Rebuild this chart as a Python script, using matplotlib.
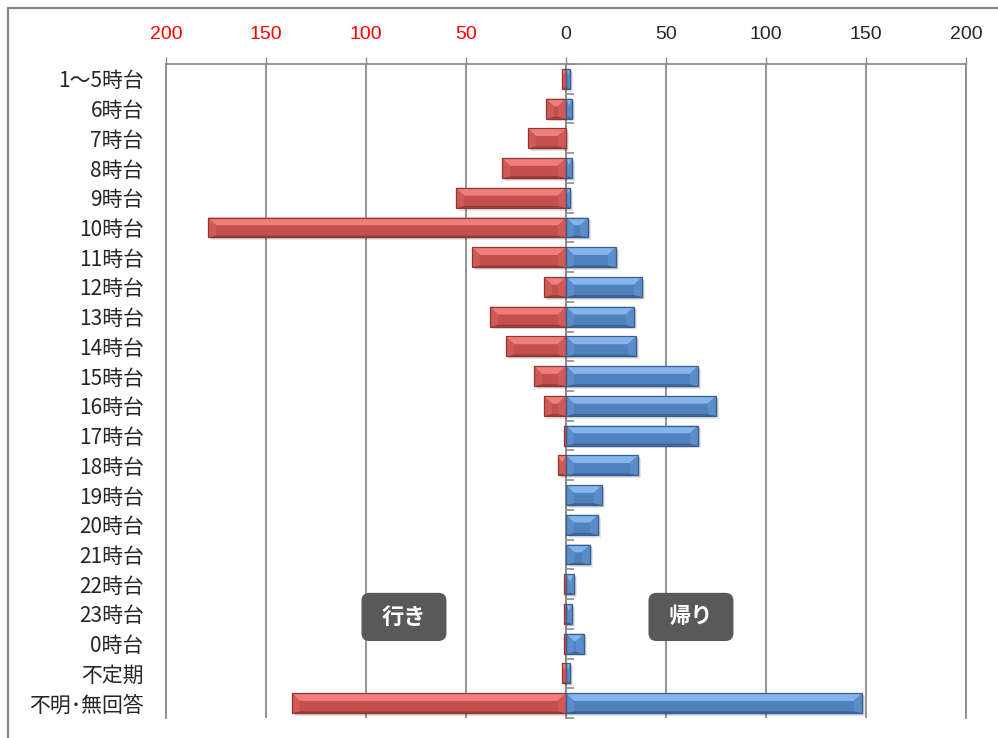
import numpy as np
import matplotlib
matplotlib.use("Agg")
import matplotlib.pyplot as plt
from matplotlib.patches import Polygon, Rectangle, FancyBboxPatch

plt.rcParams['font.family'] = ['Noto Sans CJK JP', 'DejaVu Sans']

# 時間帯別の人数（行き / 帰り）
categories = ["1～5時台", "6時台", "7時台", "8時台", "9時台", "10時台", "11時台",
              "12時台", "13時台", "14時台", "15時台", "16時台", "17時台", "18時台",
              "19時台", "20時台", "21時台", "22時台", "23時台", "0時台", "不定期",
              "不明･無回答"]
going = [2, 10, 19, 32, 55, 179, 47, 11, 38, 30, 16, 11, 1, 4, 0, 0, 0, 1, 1, 1, 2, 137]
returning = [2, 3, 0, 3, 2, 11, 25, 38, 34, 35, 66, 75, 66, 36, 18, 16, 12, 4, 3, 9, 2, 148]
x_ticks = [-200, -150, -100, -50, 0, 50, 100, 150, 200]

RED = dict(face="#c4504d", light="#f07f7b", side="#cf5a57", dark="#9a3a37", edge="#8f3835")
BLUE = dict(face="#4f81bd", light="#86b3ea", side="#5b8dca", dark="#3a6396", edge="#385f8f")
BAR_H = 0.67
GRID = "#8c8c8c"


def bevel(ax, bars, pal):
    """Overlay an Excel-like bevel on each bar drawn by barh."""
    for b in bars:
        xa, yt = b.get_x(), b.get_y()
        w, h = b.get_width(), b.get_height()
        if w < 0:
            xa, w = xa + w, -w
        if w <= 0:
            continue
        xb, yb = xa + w, yt + h
        dx = min(4.0, w / 2)
        dyt = min(0.26, h / 2)
        dyb = min(0.06, h / 2)
        # soft shadow down/right
        for k, a in ((1.6, 0.09), (0.9, 0.14)):
            ax.add_patch(Rectangle((xa + k, yt + k * 0.06), w, h, color="#000000",
                                   alpha=a, lw=0, zorder=2))
        polys = [
            ([(xa, yt), (xb, yt), (xb - dx, yt + dyt), (xa + dx, yt + dyt)], pal["light"]),
            ([(xa, yb), (xb, yb), (xb - dx, yb - dyb), (xa + dx, yb - dyb)], pal["dark"]),
            ([(xa, yt), (xa + dx, yt + dyt), (xa + dx, yb - dyb), (xa, yb)], pal["side"]),
            ([(xb, yt), (xb, yb), (xb - dx, yb - dyb), (xb - dx, yt + dyt)], pal["side"]),
        ]
        for pts, c in polys:
            ax.add_patch(Polygon(pts, closed=True, facecolor=c, edgecolor="none", zorder=4))
        ax.add_patch(Rectangle((xa, yt), w, h, fill=False, edgecolor=pal["edge"],
                               lw=0.9, zorder=5))


fig = plt.figure(figsize=(9.98, 7.38), dpi=100)
ax = fig.add_axes([0.1663, 0.0271, 0.8016, 0.8862])

y = np.arange(len(categories))
red_bars = ax.barh(y, [-v for v in going], height=BAR_H, color=RED["face"], lw=0, zorder=3)
blue_bars = ax.barh(y, returning, height=BAR_H, color=BLUE["face"], lw=0, zorder=3)
bevel(ax, red_bars, RED)
bevel(ax, blue_bars, BLUE)

ax.set_xlim(-200, 200)
ax.set_ylim(len(categories) - 0.5, -0.5)

# top axis: left half shown in red as absolute values
ax.xaxis.tick_top()
ax.set_xticks(x_ticks, [str(abs(t)) for t in x_ticks], family=['Liberation Sans', 'DejaVu Sans'])
for t, lab in zip(x_ticks, ax.get_xticklabels()):
    lab.set_color("#ff0000" if t < 0 else "#262626")
ax.tick_params(axis="x", length=5, width=1, color=GRID, pad=10, labelsize=14)
ax.grid(axis="x", color=GRID, lw=1.3, zorder=0)

ax.set_yticks(y, categories)
ax.tick_params(axis="y", length=0, pad=16, labelsize=15, labelcolor="#262626")

for side in ("top", "left", "right"):
    ax.spines[side].set_color(GRID)
    ax.spines[side].set_linewidth(1.3)
ax.spines["bottom"].set_visible(False)

# category axis at zero with ticks between categories
sec = ax.secondary_yaxis(0.5)
sec.set_yticks(np.arange(len(categories) + 1) - 0.5, [""] * (len(categories) + 1))
sec.tick_params(axis="y", length=6, width=1.2, color=GRID, direction="out")
for s in sec.spines.values():
    s.set_color(GRID)
    s.set_linewidth(1.3)

# direction labels
for label, cx in (("行き", -81), ("帰り", 62.5)):
    bw, bh = 42.5, 1.62
    ax.add_patch(FancyBboxPatch((cx - bw / 2, 18.1 - bh / 2), bw, bh,
                                boxstyle="round,pad=0,rounding_size=4",
                                mutation_aspect=0.067, facecolor="#595959",
                                edgecolor="none", zorder=6))
    ax.text(cx, 18.1, label, ha="center", va="center", color="white",
            fontsize=16, fontweight="bold", zorder=7)

# outer chart frame
fig.patches.append(Rectangle((0.008, -0.1), 1.2, 1.089, transform=fig.transFigure,
                             fill=False, edgecolor="#878787", lw=1.6, clip_on=False))

fig.savefig("out.png", dpi=100)
